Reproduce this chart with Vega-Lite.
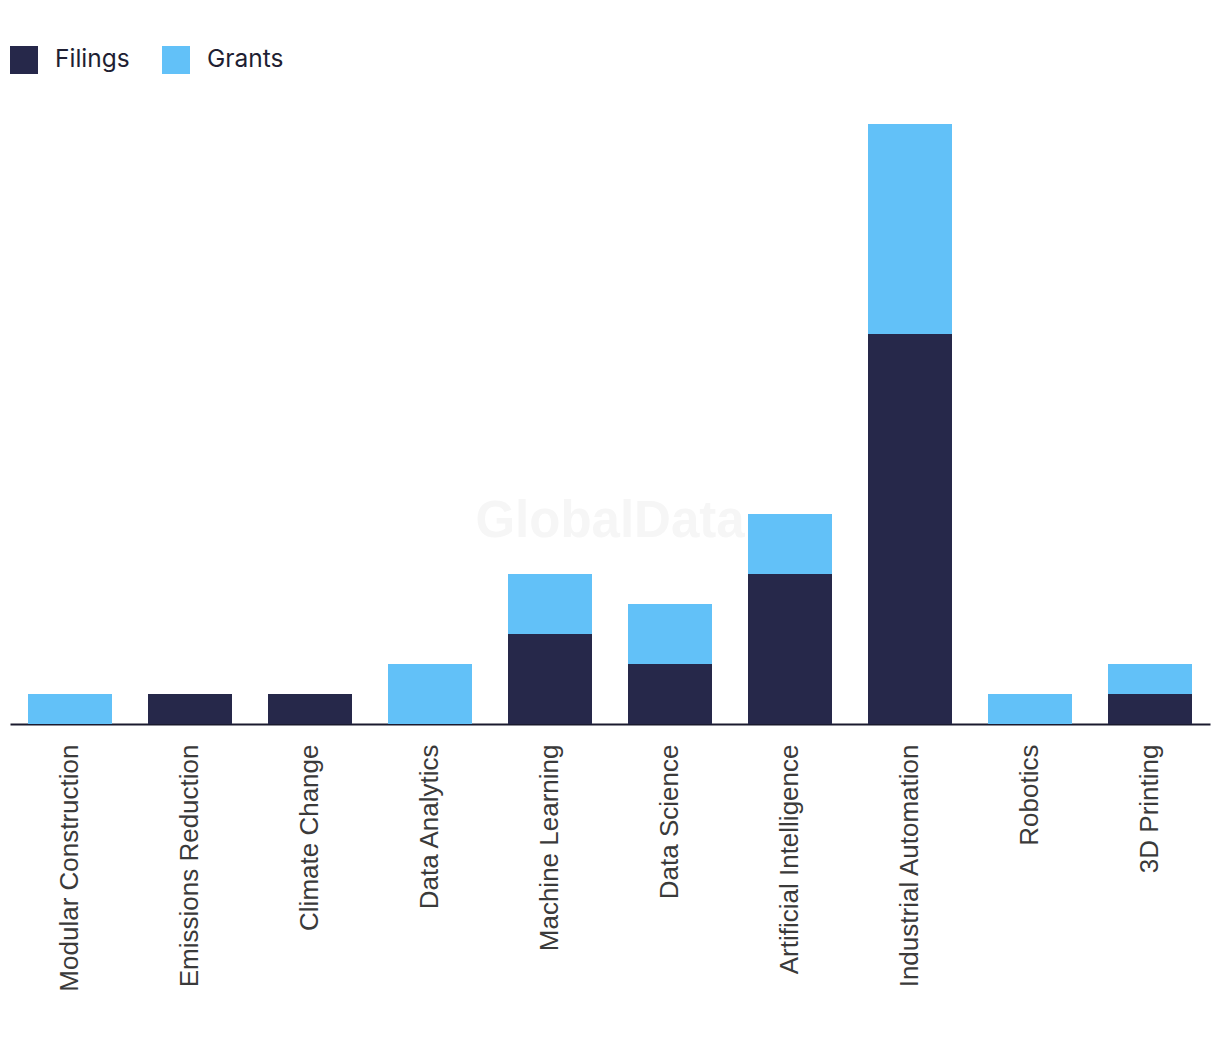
{
  "$schema": "https://vega.github.io/schema/vega-lite/v6.json",
  "width": 1200,
  "height": 600,
  "autosize": "none",
  "padding": {"left": 10, "top": 124, "right": 10, "bottom": 318},
  "background": "white",
  "config": {"view": {"stroke": null}},
  "datasets": {
    "bars": [
      {"technology": "Modular Construction", "type": "Filings", "count": 0},
      {"technology": "Modular Construction", "type": "Grants", "count": 1},
      {"technology": "Emissions Reduction", "type": "Filings", "count": 1},
      {"technology": "Emissions Reduction", "type": "Grants", "count": 0},
      {"technology": "Climate Change", "type": "Filings", "count": 1},
      {"technology": "Climate Change", "type": "Grants", "count": 0},
      {"technology": "Data Analytics", "type": "Filings", "count": 0},
      {"technology": "Data Analytics", "type": "Grants", "count": 2},
      {"technology": "Machine Learning", "type": "Filings", "count": 3},
      {"technology": "Machine Learning", "type": "Grants", "count": 2},
      {"technology": "Data Science", "type": "Filings", "count": 2},
      {"technology": "Data Science", "type": "Grants", "count": 2},
      {"technology": "Artificial Intelligence", "type": "Filings", "count": 5},
      {"technology": "Artificial Intelligence", "type": "Grants", "count": 2},
      {"technology": "Industrial Automation", "type": "Filings", "count": 13},
      {"technology": "Industrial Automation", "type": "Grants", "count": 7},
      {"technology": "Robotics", "type": "Filings", "count": 0},
      {"technology": "Robotics", "type": "Grants", "count": 1},
      {"technology": "3D Printing", "type": "Filings", "count": 1},
      {"technology": "3D Printing", "type": "Grants", "count": 1}
    ],
    "watermark": [{"label": "GlobalData", "pos": 6.75}]
  },
  "layer": [
    {
      "data": {"name": "watermark"},
      "mark": {"type": "text", "font": "Liberation Sans", "fontWeight": "bold", "fontSize": 51, "color": "#f6f6f6", "align": "center", "baseline": "middle"},
      "encoding": {
        "text": {"field": "label"},
        "y": {"field": "pos", "type": "quantitative", "scale": {"domain": [0, 20]}, "axis": null}
      }
    },
    {
      "data": {"name": "bars"},
      "mark": {"type": "bar"},
      "encoding": {
        "x": {
          "field": "technology",
          "type": "nominal",
          "sort": null,
          "scale": {"paddingInner": 0.3, "paddingOuter": 0.15},
          "axis": {
            "title": null,
            "labelAngle": -90,
            "labelFont": "Liberation Sans",
            "labelFontSize": 26,
            "labelColor": "#3a3a3a",
            "labelPadding": 20,
            "labelLimit": 0,
            "ticks": false,
            "domainColor": "#1a1a2e",
            "domainWidth": 2,
            "grid": false
          }
        },
        "y": {
          "field": "count",
          "type": "quantitative",
          "stack": "zero",
          "scale": {"domain": [0, 20]},
          "axis": null
        },
        "color": {
          "field": "type",
          "type": "nominal",
          "scale": {"domain": ["Filings", "Grants"], "range": ["#26284a", "#62c1f8"]},
          "legend": {
            "title": null,
            "orient": "none",
            "legendX": 0,
            "legendY": -78,
            "direction": "horizontal",
            "symbolType": "square",
            "symbolSize": 784,
            "symbolStrokeWidth": 0,
            "labelFont": "Inter",
            "labelFontSize": 24.5,
            "labelColor": "#1f1f33",
            "labelOffset": 17,
            "columnPadding": 32
          }
        },
        "order": {"field": "type", "sort": "ascending"}
      }
    }
  ]
}
